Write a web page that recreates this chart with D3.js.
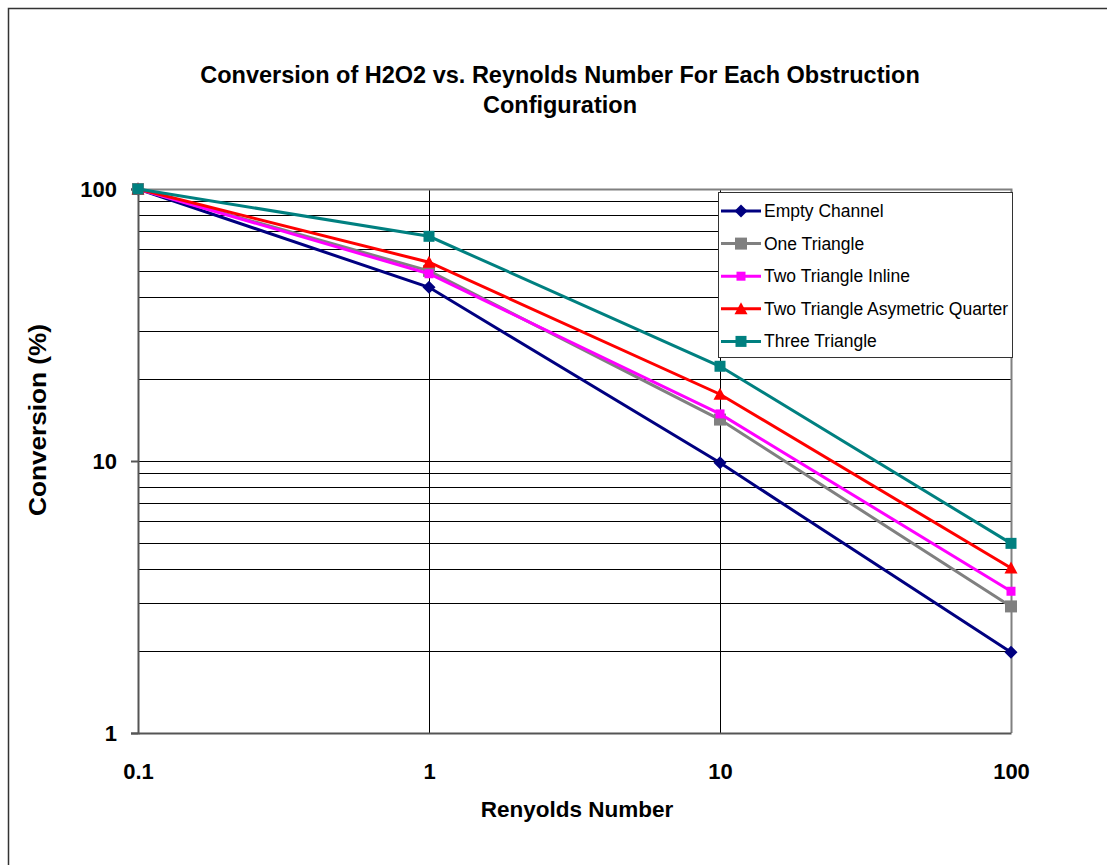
<!DOCTYPE html>
<html>
<head>
<meta charset="utf-8">
<script src="https://cdn.jsdelivr.net/npm/d3@7"></script>
<style>
  body { margin: 0; background: #fff; }
  text { font-family: "Liberation Sans", Arial, sans-serif; }
</style>
</head>
<body>
<div id="chart"></div>
<script>
// data
var reynolds = [0.1, 1, 10, 100];
var emptyChannel = [100, 43.5, 9.85, 1.98];
var oneTriangle = [100, 50, 14.2, 2.92];
var twoTriangleInline = [100, 48.8, 14.9, 3.32];
var twoTriangleAsym = [100, 53.8, 17.6, 4.04];
var threeTriangle = [100, 67, 22.3, 4.98];
var seriesNames = ["Empty Channel", "One Triangle", "Two Triangle Inline",
                   "Two Triangle Asymetric Quarter", "Three Triangle"];
var xTicks = [0.1, 1, 10, 100];
var yTicks = [1, 10, 100];

var series = [
  {name: seriesNames[0], values: emptyChannel, color: "#000080", marker: "diamond", size: 9},
  {name: seriesNames[1], values: oneTriangle, color: "#808080", marker: "square", size: 12},
  {name: seriesNames[2], values: twoTriangleInline, color: "#ff00ff", marker: "square", size: 9},
  {name: seriesNames[3], values: twoTriangleAsym, color: "#ff0000", marker: "triangle", size: 11},
  {name: seriesNames[4], values: threeTriangle, color: "#008080", marker: "square", size: 11}
];

var W = 1107, H = 865;
var margin = {top: 189, right: 96, bottom: 132, left: 138};
var width = W - margin.left - margin.right,
    height = H - margin.top - margin.bottom;

var svg = d3.select("#chart").append("svg")
    .attr("width", W)
    .attr("height", H);

// outer chart border
svg.append("rect")
    .attr("x", 8.5).attr("y", 8.5)
    .attr("width", W + 20).attr("height", H + 20)
    .attr("fill", "none").attr("stroke", "#333").attr("stroke-width", 1.5);

var x = d3.scaleLog().domain([0.1, 100]).range([0, width]);
var y = d3.scaleLog().domain([1, 100]).range([height, 0]);

var g = svg.append("g")
    .attr("transform", "translate(" + margin.left + "," + margin.top + ")");

// horizontal gridlines, majors and minors
var yGrid = [];
[1, 10].forEach(function(d) {
  for (var k = 1; k <= 10; k++) yGrid.push(d * k);
});
g.append("g").selectAll("line")
    .data(yGrid.filter(function(d) { return d > 1 && d < 100; }))
    .enter().append("line")
    .attr("x1", 0).attr("x2", width)
    .attr("y1", function(d) { return Math.round(y(d)) + 0.5; })
    .attr("y2", function(d) { return Math.round(y(d)) + 0.5; })
    .attr("stroke", "#000").attr("stroke-width", 1);

// vertical gridlines
g.append("g").selectAll("line")
    .data([1, 10])
    .enter().append("line")
    .attr("y1", 0).attr("y2", height)
    .attr("x1", function(d) { return Math.round(x(d)) + 0.5; })
    .attr("x2", function(d) { return Math.round(x(d)) + 0.5; })
    .attr("stroke", "#000").attr("stroke-width", 1);

// plot frame top / right
g.append("path")
    .attr("d", "M0.5,0.5H" + (width + 0.5) + "V" + height)
    .attr("fill", "none").attr("stroke", "#808080").attr("stroke-width", 2);

// axes
var xAxis = g.append("g")
    .attr("transform", "translate(0," + height + ")")
    .call(d3.axisBottom(x).tickValues(xTicks).tickSize(0).tickPadding(30)
      .tickFormat(function(d) { return String(d); }));
var yAxis = g.append("g")
    .call(d3.axisLeft(y).tickValues(yTicks).tickSize(7).tickPadding(14)
      .tickFormat(function(d) { return String(d); }));
[xAxis, yAxis].forEach(function(a) {
  a.select(".domain").attr("stroke", "#555").attr("stroke-width", 2);
  a.selectAll(".tick line").attr("stroke", "#555").attr("stroke-width", 2);
  a.selectAll("text")
      .attr("font-family", "'Liberation Sans', Arial, sans-serif")
      .attr("font-size", 22).attr("font-weight", "bold").attr("fill", "#000");
});

var line = d3.line()
    .x(function(d, i) { return x(reynolds[i]); })
    .y(function(d) { return y(d); });

function drawMarker(sel, s, cx, cy) {
  var r = s.size / 2;
  if (s.marker === "square") {
    sel.append("rect").attr("x", cx - r).attr("y", cy - r)
        .attr("width", s.size).attr("height", s.size).attr("fill", s.color);
  } else if (s.marker === "diamond") {
    var d = r + 2;
    sel.append("path")
        .attr("d", "M" + cx + "," + (cy - d) + "L" + (cx + d) + "," + cy +
              "L" + cx + "," + (cy + d) + "L" + (cx - d) + "," + cy + "Z")
        .attr("fill", s.color);
  } else {
    sel.append("path")
        .attr("d", "M" + cx + "," + (cy - r - 1) + "L" + (cx + r + 1) + "," + (cy + r) +
              "L" + (cx - r - 1) + "," + (cy + r) + "Z")
        .attr("fill", s.color);
  }
}

series.forEach(function(s) {
  var sg = g.append("g");
  sg.append("path")
      .datum(s.values)
      .attr("d", line)
      .attr("fill", "none")
      .attr("stroke", s.color)
      .attr("stroke-width", 3);
  s.values.forEach(function(v, i) {
    drawMarker(sg, s, x(reynolds[i]), y(v));
  });
});

// legend
var lg = svg.append("g").attr("transform", "translate(718,192)");
lg.append("rect")
    .attr("x", 0.5).attr("y", 0.5).attr("width", 294).attr("height", 165)
    .attr("fill", "#fff").attr("stroke", "#333").attr("stroke-width", 1);
series.forEach(function(s, i) {
  var yy = 19 + i * 32.6;
  var row = lg.append("g");
  row.append("line")
      .attr("x1", 3).attr("x2", 43).attr("y1", yy).attr("y2", yy)
      .attr("stroke", s.color).attr("stroke-width", 3);
  drawMarker(row, s, 23, yy);
  row.append("text")
      .attr("x", 46).attr("y", yy + 6)
      .attr("font-size", 17.5).attr("fill", "#000")
      .text(s.name);
});

// titles
var title = svg.append("text")
    .attr("x", 560).attr("y", 83)
    .attr("text-anchor", "middle")
    .attr("font-size", 23.5).attr("font-weight", "bold");
title.append("tspan").attr("x", 560).text("Conversion of H2O2 vs. Reynolds Number For Each Obstruction");
title.append("tspan").attr("x", 560).attr("dy", 30).text("Configuration");

svg.append("text")
    .attr("x", 577).attr("y", 817)
    .attr("text-anchor", "middle")
    .attr("font-size", 22.5).attr("font-weight", "bold")
    .text("Renyolds Number");

svg.append("text")
    .attr("transform", "translate(46,420) rotate(-90)")
    .attr("text-anchor", "middle")
    .attr("font-size", 23).attr("font-weight", "bold")
    .attr("textLength", 192).attr("lengthAdjust", "spacingAndGlyphs")
    .text("Conversion (%)");
</script>
</body>
</html>
